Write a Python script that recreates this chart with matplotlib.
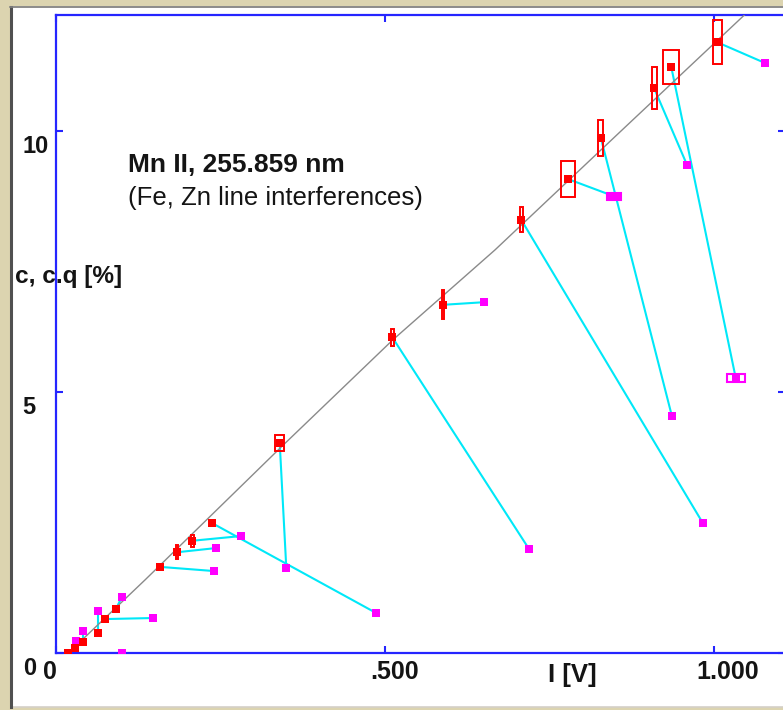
import numpy as np
import matplotlib.pyplot as plt
from matplotlib.patches import Rectangle
from matplotlib.transforms import ScaledTranslation

# measured points (red) and the points they are linked to (magenta)
I_meas = [0.018, 0.029, 0.041, 0.064, 0.074, 0.091, 0.158, 0.184, 0.207, 0.237,
          0.340, 0.511, 0.588, 0.707, 0.778, 0.828, 0.909, 0.935, 1.005]
c_meas = [0.00, 0.10, 0.21, 0.38, 0.65, 0.84, 1.65, 1.93, 2.15, 2.49,
          4.02, 6.05, 6.67, 8.30, 9.08, 9.87, 10.82, 11.23, 11.70]
I_q = [0.100, 0.030, 0.041, 0.064, 0.147, 0.100, 0.240, 0.243, 0.281, 0.486,
       0.350, 0.719, 0.650, 0.983, 0.848, 0.936, 0.959, 1.033, 1.078]
c_q = [0.00, 0.23, 0.42, 0.80, 0.67, 1.07, 1.57, 2.01, 2.24, 0.77,
       1.63, 1.99, 6.72, 2.49, 8.75, 4.54, 9.35, 5.27, 11.30]

# error boxes of the red points (full width in I, full height in c)
err_I = [0, 0, 0, 0, 0, 0, 0, 0.004, 0.004, 0,
         0.014, 0.004, 0.004, 0.004, 0.020, 0.0076, 0.0076, 0.024, 0.0137]
err_c = [0, 0, 0, 0, 0, 0, 0, 0.27, 0.23, 0,
         0.30, 0.33, 0.56, 0.48, 0.69, 0.69, 0.80, 0.65, 0.84]
# boxes of the magenta points (width in I, filled or not)
errq_I = [0, 0, 0, 0, 0, 0, 0, 0, 0, 0,
          0, 0, 0, 0, 0.022, 0, 0, 0.027, 0]
errq_fill = [False] * 14 + [True, False, False, False, False]

# calibration curve
cal_I = [0.0137, 0.1353, 0.345, 0.512, 0.667, 0.857, 1.046]
cal_c = [-0.06, 1.40, 3.98, 6.00, 7.72, 9.98, 12.22]

xticks = [0, 0.5, 1.0]
xtick_labels = ['0', '.500', '1.000']
yticks = [0, 5, 10]
ytick_labels = ['0', '5', '10']

W, H = 783, 710
dpi = 100
fig = plt.figure(figsize=(W / dpi, H / dpi), dpi=dpi, facecolor='#dcd4b0')

# white sunken panel
fig.patches.append(Rectangle((12 / W, 3 / H), 1, 700 / H, transform=fig.transFigure,
                             facecolor='white', edgecolor='#d4d0c8', lw=1.2, zorder=-2))
fig.add_artist(plt.Line2D([10.5 / W, 10.5 / W], [3 / H, 703 / H], transform=fig.transFigure,
                          color='#505050', lw=2.2, zorder=-1))
fig.add_artist(plt.Line2D([10 / W, 1], [703.5 / H, 703.5 / H], transform=fig.transFigure,
                          color='#808080', lw=1.2, zorder=-1))

left, right, top, bottom = 56, 785, 15, 653
ax = fig.add_axes([left / W, (H - bottom) / H, (right - left) / W, (bottom - top) / H])
ax.set_facecolor('white')
ax.set_xlim(0, (right - left) / 658)
ax.set_ylim(0, (bottom - top) / 52.2)

blue = '#2525ff'
for sp in ax.spines.values():
    sp.set_color(blue)
    sp.set_linewidth(1.6)

# links
for i in range(len(I_meas)):
    ax.plot([I_meas[i], I_q[i]], [c_meas[i], c_q[i]], color='#00e8f8', lw=1.5,
            zorder=2, solid_capstyle='butt')

ax.plot(cal_I, cal_c, color='#8a8a8a', lw=1.0, zorder=3)

ax.plot(I_q, c_q, 's', color='#ff00ff', ms=5.8, mew=0, zorder=4)
for i in range(len(I_q)):
    if errq_I[i] > 0:
        ax.add_patch(Rectangle((I_q[i] - errq_I[i] / 2, c_q[i] - 0.07), errq_I[i], 0.14,
                               facecolor='#ff00ff' if errq_fill[i] else 'none',
                               edgecolor='#ff00ff', lw=1.5, zorder=4))

ax.plot(I_meas, c_meas, 's', color='#ff0000', ms=6.4, mew=0, zorder=5)
for i in range(len(I_meas)):
    if err_I[i] > 0:
        ax.add_patch(Rectangle((I_meas[i] - err_I[i] / 2, c_meas[i] - err_c[i] / 2),
                               err_I[i], err_c[i], facecolor='none', edgecolor='#ff0000',
                               lw=1.4, zorder=5))

txt = '#141414'
ax.set_xticks(xticks)
ax.set_xticklabels(xtick_labels, fontsize=18, fontweight='bold', color=txt,
                   family='Liberation Sans')
ax.set_yticks(yticks)
ax.set_yticklabels(ytick_labels, fontsize=17, fontweight='bold', color=txt,
                   family='Liberation Sans', ha='left')
ax.tick_params(axis='both', which='both', direction='in', length=5, width=1.5,
               color=blue, top=True, right=True)
ax.tick_params(axis='x', pad=5)
ax.tick_params(axis='y', pad=24)

x_off = [-6, 10, 14]
for lab, dx in zip(ax.get_xticklabels(), x_off):
    lab.set_transform(lab.get_transform() + ScaledTranslation(dx / dpi, 0, fig.dpi_scale_trans))
for lab in ax.get_yticklabels():
    lab.set_transform(lab.get_transform() + ScaledTranslation(0, -13 / dpi, fig.dpi_scale_trans))

ax.set_ylabel('c, c.q [%]', rotation=0, ha='left', va='center', fontsize=17.6,
              fontweight='bold', color=txt, family='Liberation Sans')
ax.yaxis.set_label_coords((15 - left) / (right - left), (bottom - 276) / (bottom - top))
ax.set_xlabel('I [V]', ha='center', va='center', fontsize=18.5, fontweight='bold',
              color=txt, family='Liberation Sans')
ax.xaxis.set_label_coords((572 - left) / (right - left), (bottom - 675) / (bottom - top))

ax.text((128 - left) / (right - left), (bottom - 165) / (bottom - top), 'Mn II, 255.859 nm',
        transform=ax.transAxes, fontsize=19, fontweight='bold', color=txt,
        family='Liberation Sans', va='center', ha='left')
ax.text((128 - left) / (right - left), (bottom - 198) / (bottom - top),
        '(Fe, Zn line interferences)', transform=ax.transAxes, fontsize=18.5,
        color=txt, family='Liberation Sans', va='center', ha='left')

fig.savefig('out.png', dpi=dpi, facecolor=fig.get_facecolor())
